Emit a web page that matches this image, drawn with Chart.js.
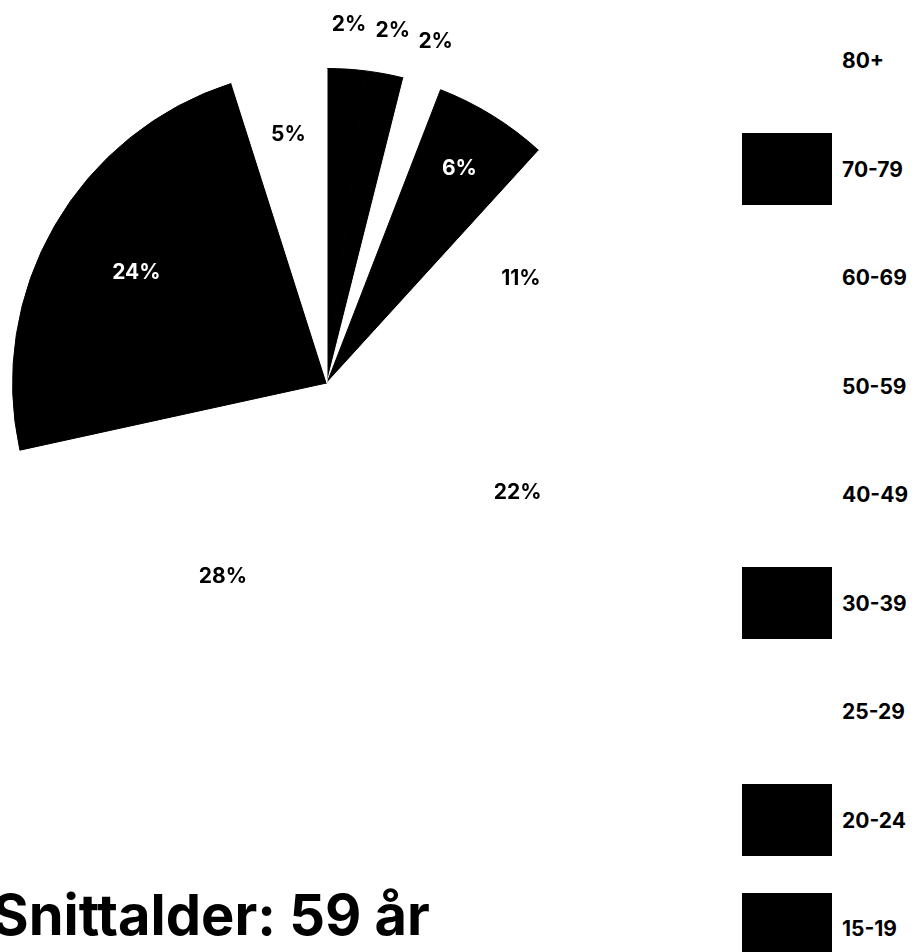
<!DOCTYPE html>
<html lang="no">
<head>
<meta charset="utf-8">
<title>Snittalder</title>
<script src="https://cdn.jsdelivr.net/npm/chart.js@4.4.1/dist/chart.umd.min.js"></script>
<style>
    html, body { margin: 0; padding: 0; background: #fff; overflow: hidden; }
    body { width: 914px; height: 952px; position: relative; font-family: Inter, 'Noto Sans', sans-serif; }
    .chart-box { position: absolute; left: -8px; top: 0; width: 670px; height: 952px; }
    #legend { position: absolute; left: 742px; top: 24.5px; margin: 0; padding: 0; list-style: none; }
    #legend li { display: flex; align-items: center; height: 72px; margin-bottom: 36.5px; font-weight: 700; font-size: 21px; color: #000; }
    #legend .swatch { width: 90px; height: 72px; margin-right: 10px; }
</style>
</head>
<body>
<div class="chart-box"><canvas id="ageChart"></canvas></div>
<ul id="legend"></ul>
<script>
// Aldersfordeling
const ageGroups = ['15-19', '20-24', '25-29', '30-39', '40-49', '50-59', '60-69', '70-79', '80+'];
const sharePct = [2, 2, 2, 6, 11, 22, 28, 24, 5];
const sliceColors = ['#000000', '#000000', '#ffffff', '#000000', '#ffffff', '#ffffff', '#ffffff', '#000000', '#ffffff'];
const chartTitle = 'Snittalder: 59 år';

// Percent labels on the slices (small slices get their label outside)
const sliceLabels = {
    id: 'sliceLabels',
    afterDatasetsDraw(chart) {
        const ctx = chart.ctx;
        const meta = chart.getDatasetMeta(0);
        ctx.save();
        ctx.font = '700 21px Inter, sans-serif';
        ctx.textAlign = 'center';
        ctx.textBaseline = 'middle';
        meta.data.forEach((arc, i) => {
            const value = sharePct[i];
            const p = arc.getProps(['x', 'y', 'startAngle', 'endAngle', 'outerRadius'], true);
            const mid = (p.startAngle + p.endAngle) / 2;
            let k = 0.7;
            if (value < 3) k = 1.14;
            else if (value < 10) k = 0.8;
            const inside = k < 1;
            ctx.fillStyle = (inside && sliceColors[i] === '#000000') ? '#ffffff' : '#000000';
            ctx.fillText(value + '%', p.x + Math.cos(mid) * p.outerRadius * k, p.y + Math.sin(mid) * p.outerRadius * k);
        });
        ctx.restore();
    }
};

// Legend as html list, built from the chart's own legend items
const htmlLegend = {
    id: 'htmlLegend',
    afterUpdate(chart) {
        const ul = document.getElementById('legend');
        ul.innerHTML = '';
        const items = chart.options.plugins.legend.labels.generateLabels(chart).reverse();
        items.forEach(item => {
            const li = document.createElement('li');
            const box = document.createElement('span');
            box.className = 'swatch';
            box.style.background = item.fillStyle;
            const text = document.createElement('span');
            text.textContent = item.text;
            li.appendChild(box);
            li.appendChild(text);
            ul.appendChild(li);
        });
    }
};

new Chart(document.getElementById('ageChart'), {
    type: 'pie',
    data: {
        labels: ageGroups,
        datasets: [{
            data: sharePct,
            backgroundColor: sliceColors,
            borderColor: sliceColors,
            borderWidth: 1
        }]
    },
    options: {
        responsive: true,
        maintainAspectRatio: false,
        animation: false,
        layout: {
            padding: { top: 68, bottom: 0 }
        },
        plugins: {
            legend: { display: false },
            tooltip: { enabled: false },
            title: {
                display: true,
                text: chartTitle,
                position: 'bottom',
                align: 'start',
                color: '#000',
                font: { family: 'Inter', size: 56, weight: 700, lineHeight: 1.2 },
                padding: { top: 187, bottom: 0 }
            }
        }
    },
    plugins: [sliceLabels, htmlLegend]
});
</script>
</body>
</html>
